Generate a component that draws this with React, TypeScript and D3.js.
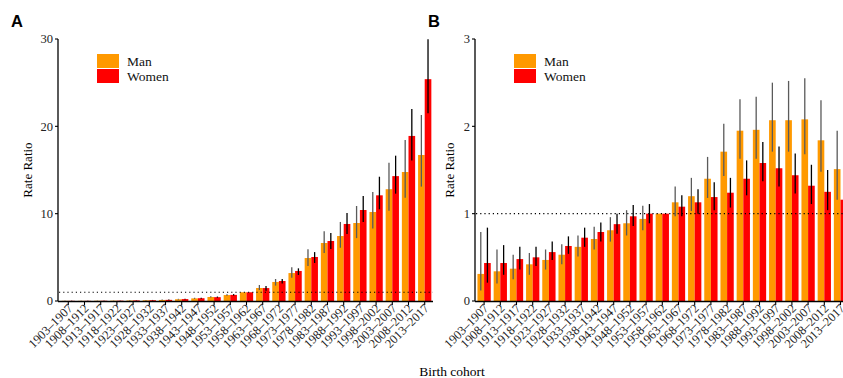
import React from 'react';
import * as d3 from 'd3';

const cohorts = [
  '1903–1907', '1908–1912', '1913–1917', '1918–1922', '1923–1927', '1928–1932',
  '1933–1937', '1938–1942', '1943–1947', '1948–1952', '1953–1957', '1958–1962',
  '1963–1967', '1968–1972', '1973–1977', '1978–1982', '1983–1987', '1988–1992',
  '1993–1997', '1998–2002', '2003–2007', '2008–2012', '2013–2017',
];
const sexes = ['Man', 'Women'];
const sexColors = ['#FF9900', '#FF0000'];

// panel A
const manA = [0.02, 0.02, 0.03, 0.04, 0.06, 0.08, 0.12, 0.2, 0.3, 0.46, 0.68, 1, 1.49, 2.18, 3.2, 4.92, 6.64, 7.44, 8.93, 10.19, 12.8, 14.77, 16.72];
const manALo = [0.01, 0.01, 0.02, 0.03, 0.04, 0.06, 0.09, 0.16, 0.25, 0.39, 0.6, 1, 1.26, 1.76, 2.67, 4.0, 5.5, 6.1, 7.2, 8.3, 10.34, 11.83, 13.1];
const manAHi = [0.04, 0.04, 0.05, 0.06, 0.09, 0.11, 0.16, 0.25, 0.37, 0.55, 0.78, 1, 1.83, 2.52, 3.86, 5.92, 8.0, 9.05, 10.88, 12.48, 15.84, 18.44, 21.3];
const womenA = [0.02, 0.02, 0.03, 0.04, 0.07, 0.09, 0.13, 0.22, 0.32, 0.44, 0.7, 1, 1.48, 2.29, 3.44, 5.04, 6.87, 8.82, 10.42, 12.1, 14.3, 18.9, 25.4];
const womenALo = [0.01, 0.01, 0.02, 0.03, 0.05, 0.07, 0.1, 0.18, 0.27, 0.38, 0.62, 1, 1.18, 2.0, 2.98, 4.35, 5.95, 7.67, 9.05, 10.5, 12.29, 16.1, 21.5];
const womenAHi = [0.04, 0.04, 0.05, 0.06, 0.09, 0.12, 0.17, 0.27, 0.38, 0.51, 0.79, 1, 1.72, 2.52, 3.74, 5.6, 7.8, 10.07, 12.02, 14.23, 16.64, 21.98, 29.97];
const ticksA = [0, 10, 20, 30];

// panel B
const manB = [0.31, 0.34, 0.37, 0.42, 0.47, 0.53, 0.62, 0.71, 0.81, 0.89, 0.94, 1, 1.13, 1.2, 1.4, 1.71, 1.95, 1.96, 2.07, 2.07, 2.08, 1.84, 1.51];
const manBLo = [0.12, 0.2, 0.25, 0.3, 0.36, 0.42, 0.51, 0.59, 0.68, 0.75, 0.81, 1, 0.97, 1.03, 1.18, 1.43, 1.63, 1.63, 1.71, 1.71, 1.68, 1.48, 1.16];
const manBHi = [0.79, 0.59, 0.53, 0.55, 0.59, 0.65, 0.75, 0.85, 0.96, 1.04, 1.09, 1, 1.31, 1.41, 1.65, 2.03, 2.31, 2.34, 2.5, 2.52, 2.55, 2.3, 1.95];
const womenB = [0.435, 0.435, 0.48, 0.5, 0.56, 0.63, 0.725, 0.79, 0.88, 0.97, 1, 1, 1.08, 1.13, 1.19, 1.24, 1.4, 1.58, 1.52, 1.44, 1.32, 1.25, 1.16];
const womenBLo = [0.21, 0.3, 0.36, 0.4, 0.47, 0.54, 0.62, 0.68, 0.77, 0.86, 0.89, 1, 0.97, 1, 1.04, 1.07, 1.21, 1.37, 1.31, 1.23, 1.11, 1.04, 0.99];
const womenBHi = [0.84, 0.64, 0.62, 0.62, 0.68, 0.74, 0.84, 0.9, 1, 1.1, 1.11, 1, 1.21, 1.28, 1.36, 1.41, 1.61, 1.82, 1.77, 1.69, 1.56, 1.5, 1.36];
const ticksB = [0, 1, 2, 3];

const serif = '"Liberation Serif", "Times New Roman", serif';
const sans = '"Liberation Sans", Arial, sans-serif';

interface PanelProps {
  label: string;
  axisX: number;
  x0: number;
  x1: number;
  lineEnd: number;
  yMax: number;
  ticks: number[];
  values: number[][];
  lo: number[][];
  hi: number[][];
  titleX: number;
}

const Panel: React.FC<PanelProps> = ({ label, axisX, x0, x1, lineEnd, yMax, ticks, values, lo, hi, titleX }) => {
  const y = d3.scaleLinear().domain([0, yMax]).range([301, 39]);
  const x = d3.scaleBand<string>().domain(cohorts).range([x0, x1]).paddingInner(0.18).paddingOuter(0.09);
  const sub = d3.scaleBand<string>().domain(sexes).range([0, x.bandwidth()]);
  const errColors = ['#5a5a5a', '#000'];

  return (
    <g>
      <text x={axisX - 47} y={27} fontFamily={sans} fontWeight="bold" fontSize={16.5}>{label}</text>

      {sexes.map((s, si) => values[si].map((v, i) => (
        <rect key={s + i} x={(x(cohorts[i]) ?? 0) + (sub(s) ?? 0)} y={y(v)}
          width={sub.bandwidth()} height={y(0) - y(v)} fill={sexColors[si]} />
      )))}

      <line x1={axisX + 1} x2={lineEnd} y1={y(1)} y2={y(1)} stroke="#000"
        strokeWidth={1.2} strokeDasharray="1.2,3" />

      {sexes.map((s, si) => values[si].map((v, i) => {
        if (lo[si][i] === hi[si][i]) return null;
        const cx = (x(cohorts[i]) ?? 0) + (sub(s) ?? 0) + sub.bandwidth() / 2;
        return (
          <line key={'e' + s + i} x1={cx} x2={cx} y1={y(lo[si][i])} y2={y(hi[si][i])}
            stroke={errColors[si]} strokeWidth={1.3} />
        );
      }))}

      {/* y axis */}
      <line x1={axisX} x2={axisX} y1={y(yMax)} y2={y(0)} stroke="#000" strokeWidth={1.3} />
      {ticks.map(t => (
        <g key={t}>
          <line x1={axisX - 3} x2={axisX} y1={y(t)} y2={y(t)} stroke="#000" strokeWidth={1.1} />
          <text x={axisX - 5} y={y(t)} dy="0.35em" textAnchor="end" fontFamily={serif}
            fontSize={12.5} fill="#222">{t}</text>
        </g>
      ))}
      <text transform={`translate(${titleX},170) rotate(-90)`} textAnchor="middle"
        fontFamily={serif} fontSize={13}>Rate Ratio</text>

      {/* x axis */}
      <line x1={axisX} x2={lineEnd} y1={y(0) + 0.5} y2={y(0) + 0.5} stroke="#000" strokeWidth={1.4} />
      {cohorts.map(c => {
        const cx = (x(c) ?? 0) + x.bandwidth() / 2;
        return (
          <g key={c}>
            <line x1={cx} x2={cx} y1={y(0)} y2={y(0) + 4} stroke="#000" strokeWidth={1.1} />
            <text transform={`translate(${cx + 5},309) rotate(-45)`} textAnchor="end"
              fontFamily={serif} fontSize={12.5} fill="#222">{c}</text>
          </g>
        );
      })}

      {/* legend */}
      {sexes.map((s, si) => (
        <g key={'l' + s}>
          <rect x={axisX + 39} y={54 + si * 15} width={22} height={14} fill={sexColors[si]} />
          <text x={axisX + 69} y={65.5 + si * 15.5} fontFamily={serif} fontSize={13.5} fill="#111">{s}</text>
        </g>
      ))}
    </g>
  );
};

const App: React.FC = () => (
  <svg width={843} height={378} style={{ position: 'absolute', left: 0, top: 0, background: '#fff' }}>
    <Panel label="A" axisX={58} x0={60.2} x1={432.8} lineEnd={433} yMax={30} ticks={ticksA}
      values={[manA, womenA]} lo={[manALo, womenALo]} hi={[manAHi, womenAHi]} titleX={32} />
    <Panel label="B" axisX={475} x0={476} x1={848.6} lineEnd={843} yMax={3} ticks={ticksB}
      values={[manB, womenB]} lo={[manBLo, womenBLo]} hi={[manBHi, womenBHi]} titleX={454} />
    <text x={452} y={376} textAnchor="middle" fontFamily={serif} fontSize={13.5}>Birth cohort</text>
  </svg>
);

export default App;
